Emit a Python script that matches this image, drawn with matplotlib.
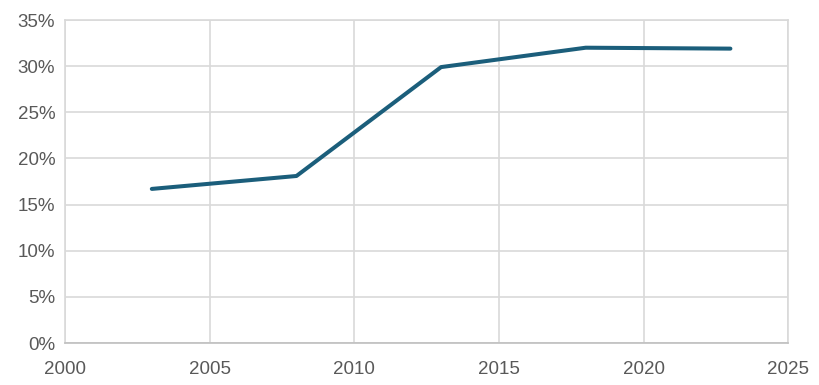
import matplotlib.pyplot as plt
from matplotlib.ticker import FuncFormatter

# Data
years = [2003, 2008, 2013, 2018, 2023]
share = [16.7, 18.1, 29.9, 32.0, 31.9]

plt.rcParams['font.family'] = ['Liberation Sans', 'DejaVu Sans']

fig = plt.figure(figsize=(8.2, 3.85), dpi=100)
ax = fig.add_axes([0.0793, 0.109, 0.882, 0.839])

ax.plot(years, share, color='#1b5e7b', linewidth=2.9, solid_capstyle='round', zorder=3)

ax.set_xlim(2000, 2025)
ax.set_ylim(0, 35)
ax.set_xticks(range(2000, 2026, 5))
ax.set_yticks(range(0, 36, 5))
ax.yaxis.set_major_formatter(FuncFormatter(lambda v, p: f"{v:.0f}%"))

ax.grid(True, color='#d9d9d9', linewidth=1.2)
ax.set_axisbelow(True)
for s in ax.spines.values():
    s.set_color('#d9d9d9')
    s.set_linewidth(1.2)
ax.spines['bottom'].set_color('#bfbfbf')

ax.tick_params(length=0, labelsize=13.5, colors='#595959', pad=7)
ax.tick_params(axis='x', pad=13)

fig.savefig('out.png', dpi=100)
